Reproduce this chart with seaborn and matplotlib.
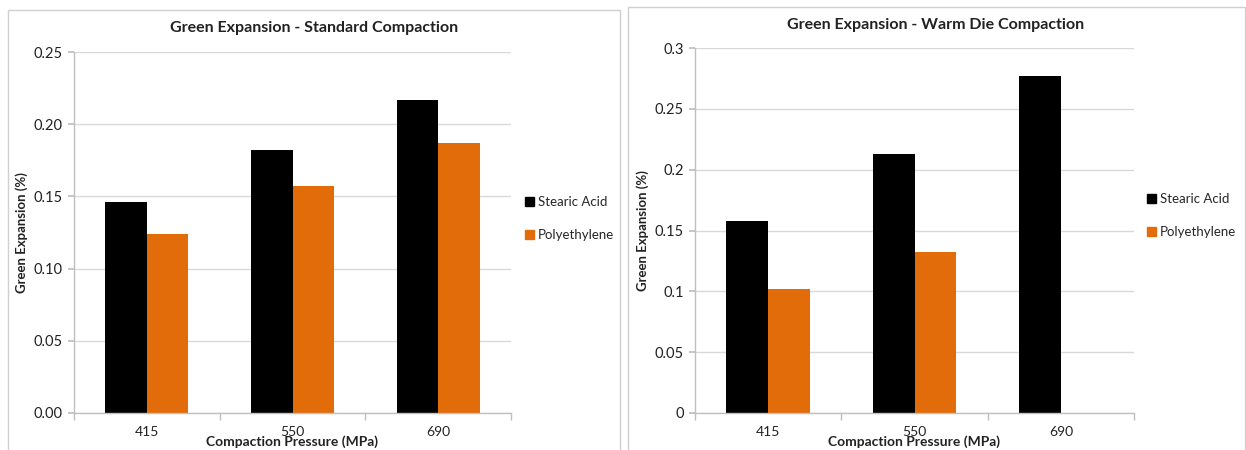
import matplotlib
matplotlib.use("Agg")
import matplotlib.pyplot as plt
import seaborn as sns
import pandas as pd
import numpy as np
from matplotlib.patches import Rectangle
from matplotlib.ticker import FixedLocator, FormatStrFormatter

pressures = ["415", "550", "690"]
series = ["Stearic Acid", "Polyethylene"]
std_stearic = [0.146, 0.182, 0.217]
std_poly = [0.124, 0.157, 0.187]
warm_stearic = [0.158, 0.213, 0.277]
warm_poly = [0.102, 0.132, np.nan]
std_ticks = [0.00, 0.05, 0.10, 0.15, 0.20, 0.25]
warm_ticks = [0, 0.05, 0.1, 0.15, 0.2, 0.25, 0.3]
warm_tick_labels = ["0", "0.05", "0.1", "0.15", "0.2", "0.25", "0.3"]

colors = {"Stearic Acid": "#000000", "Polyethylene": "#E36C0A"}

sns.set_theme(style="white")
plt.rcParams["font.family"] = ["Lato", "DejaVu Sans"]

fig = plt.figure(figsize=(12.46, 4.5), dpi=100)

def df_of(a, b):
    return pd.DataFrame({
        "Pressure": pressures * 2,
        "Series": [series[0]] * 3 + [series[1]] * 3,
        "Value": list(a) + list(b),
    })

def draw(ax, df, ticks, ticklabels, ymax, title, title_x, title_y, leg_x, leg_y):
    sns.barplot(data=df, x="Pressure", y="Value", hue="Series", hue_order=series,
                palette=colors, width=0.57, saturation=1, ax=ax, legend=False,
                errorbar=None, linewidth=0)
    ax.set_ylim(0, ymax)
    ax.set_xlim(-0.5, 2.5)
    ax.set_yticks(ticks)
    if ticklabels is None:
        ax.yaxis.set_major_formatter(FormatStrFormatter("%.2f"))
    else:
        ax.set_yticklabels(ticklabels)
    ax.grid(axis="y", color="#d9d9d9", linewidth=1)
    ax.set_axisbelow(True)
    for s in ["top", "right"]:
        ax.spines[s].set_visible(False)
    for s in ["left", "bottom"]:
        ax.spines[s].set_color("#bfbfbf")
        ax.spines[s].set_linewidth(1)
    ax.tick_params(axis="y", left=True, length=4, color="#bfbfbf", labelsize=10.5,
                   labelcolor="#222222", pad=4)
    ax.tick_params(axis="x", bottom=False, labelsize=10, labelcolor="#222222", pad=3)
    ax.xaxis.set_minor_locator(FixedLocator([-0.5, 0.5, 1.5, 2.5]))
    ax.tick_params(axis="x", which="minor", bottom=True, length=5, color="#bfbfbf")
    ax.set_xlabel("Compaction Pressure (MPa)", fontsize=10, fontweight="bold",
                  color="#222222", labelpad=-1.5)
    ax.set_ylabel("Green Expansion (%)", fontsize=9.5, fontweight="bold",
                  color="#222222", labelpad=4)
    fig.text(title_x, title_y, title, ha="center", va="center", fontsize=11.5,
             fontweight="bold", color="#222222")
    handles = [Rectangle((0, 0), 1, 1, color=colors[s]) for s in series]
    fig.legend(handles, series, loc="upper left", bbox_to_anchor=(leg_x, leg_y),
               frameon=False, fontsize=9.5, handlelength=0.7, handleheight=0.7,
               handletextpad=0.3, labelspacing=1.6, borderaxespad=0,
               borderpad=0)

ax1 = fig.add_axes([74 / 1246, 1 - 413 / 450, (511 - 74) / 1246, (413 - 52) / 450])
draw(ax1, df_of(std_stearic, std_poly), std_ticks, None, 0.25,
     "Green Expansion - Standard Compaction", 314 / 1246, 1 - 28 / 450,
     525 / 1246, 1 - 196 / 450)

ax2 = fig.add_axes([695 / 1246, 1 - 413 / 450, (1134 - 695) / 1246, (413 - 48) / 450])
draw(ax2, df_of(warm_stearic, warm_poly), warm_ticks, warm_tick_labels, 0.3,
     "Green Expansion - Warm Die Compaction", 936 / 1246, 1 - 25 / 450,
     1147 / 1246, 1 - 193 / 450)

fig.patches.append(Rectangle((8 / 1246, -0.05), (620 - 8) / 1246, 1.05 - 10 / 450,
                             transform=fig.transFigure, fill=False,
                             edgecolor="#d0d0d0", linewidth=1))
fig.patches.append(Rectangle((628 / 1246, -0.05), (1245 - 628) / 1246, 1.05 - 7 / 450,
                             transform=fig.transFigure, fill=False,
                             edgecolor="#d0d0d0", linewidth=1))

fig.savefig("out.png", dpi=100, facecolor="white")
